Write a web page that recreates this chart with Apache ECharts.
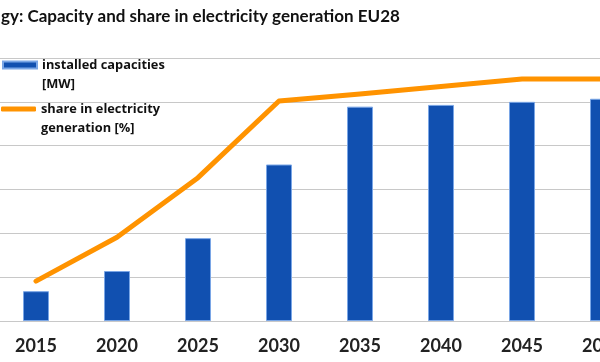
<!DOCTYPE html>
<html><head><meta charset="utf-8">
<script src="https://cdn.jsdelivr.net/npm/echarts@6/dist/echarts.min.js"></script>
<style>html,body{margin:0;padding:0;background:#fff}#c{width:600px;height:362px}</style>
</head><body><div id="c"></div>
<script>
const years = ['2015','2020','2025','2030','2035','2040','2045','2050'];
const capacities = [6.8, 11.4, 18.9, 35.7, 48.9, 49.3, 50.0, 50.7];
const share = [9.1, 19.1, 32.7, 50.2, 51.8, 53.5, 55.2, 55.2];
const capName = 'installed capacities\n[MW]';
const shareName = 'share in electricity\ngeneration [%]';
const FONT = 'Lato';
const chart = echarts.init(document.getElementById('c'), null, {renderer:'canvas'});
const legendText = {fontFamily: 'Open Sans', fontWeight: 'bold', fontSize: 12.8, color: '#111', lineHeight: 19};
chart.setOption({
  animation: false,
  title: {text: 'gy: Capacity and share in electricity generation EU28', left: -4, top: 3,
    textStyle: {fontFamily: FONT, fontWeight: 'bold', fontSize: 17, color: '#111'}},
  legend: [
    {data: [{name: capName, icon: 'rect'}], left: 2, top: 36.5, padding: 0, itemWidth: 34, itemHeight: 7, itemGap: 0,
      formatter: n => '\n' + n, textStyle: legendText, selectedMode: false},
    {data: [{name: shareName, icon: 'roundRect'}], left: 1, top: 80.5, padding: 0, itemWidth: 35, itemHeight: 5, itemGap: 0,
      formatter: n => '\n' + n, textStyle: legendText, selectedMode: false}
  ],
  grid: {left: -4.5, width: 648, top: 58, bottom: 41, outerBoundsMode: 'none', containLabel: false},
  xAxis: {type: 'category', data: years, boundaryGap: true,
    axisLine: {show: true, lineStyle: {color: '#c8c8c8', width: 1}},
    axisTick: {show: false},
    axisLabel: {fontFamily: FONT, fontWeight: 'bold', fontSize: 18, color: '#222', margin: 16, interval: 0, hideOverlap: false}},
  yAxis: [
    {type: 'value', min: 0, max: 60, interval: 10, axisLabel: {show: false}, axisLine: {show: false}, axisTick: {show: false},
      splitLine: {lineStyle: {color: '#c8c8c8', width: 1}}},
    {type: 'value', min: 0, max: 60, interval: 10, axisLabel: {show: false}, axisLine: {show: false}, axisTick: {show: false},
      splitLine: {show: false}}
  ],
  series: [
    {name: capName, type: 'bar', data: capacities, barWidth: 26, yAxisIndex: 0,
      itemStyle: {color: '#1150b0', borderColor: '#7aa6e6', borderWidth: 1}},
    {name: shareName, type: 'line', data: share, yAxisIndex: 1, symbol: 'none',
      lineStyle: {color: '#ff9300', width: 5, cap: 'round', join: 'round'}, itemStyle: {color: '#ff9300'}}
  ]
});
</script></body></html>
